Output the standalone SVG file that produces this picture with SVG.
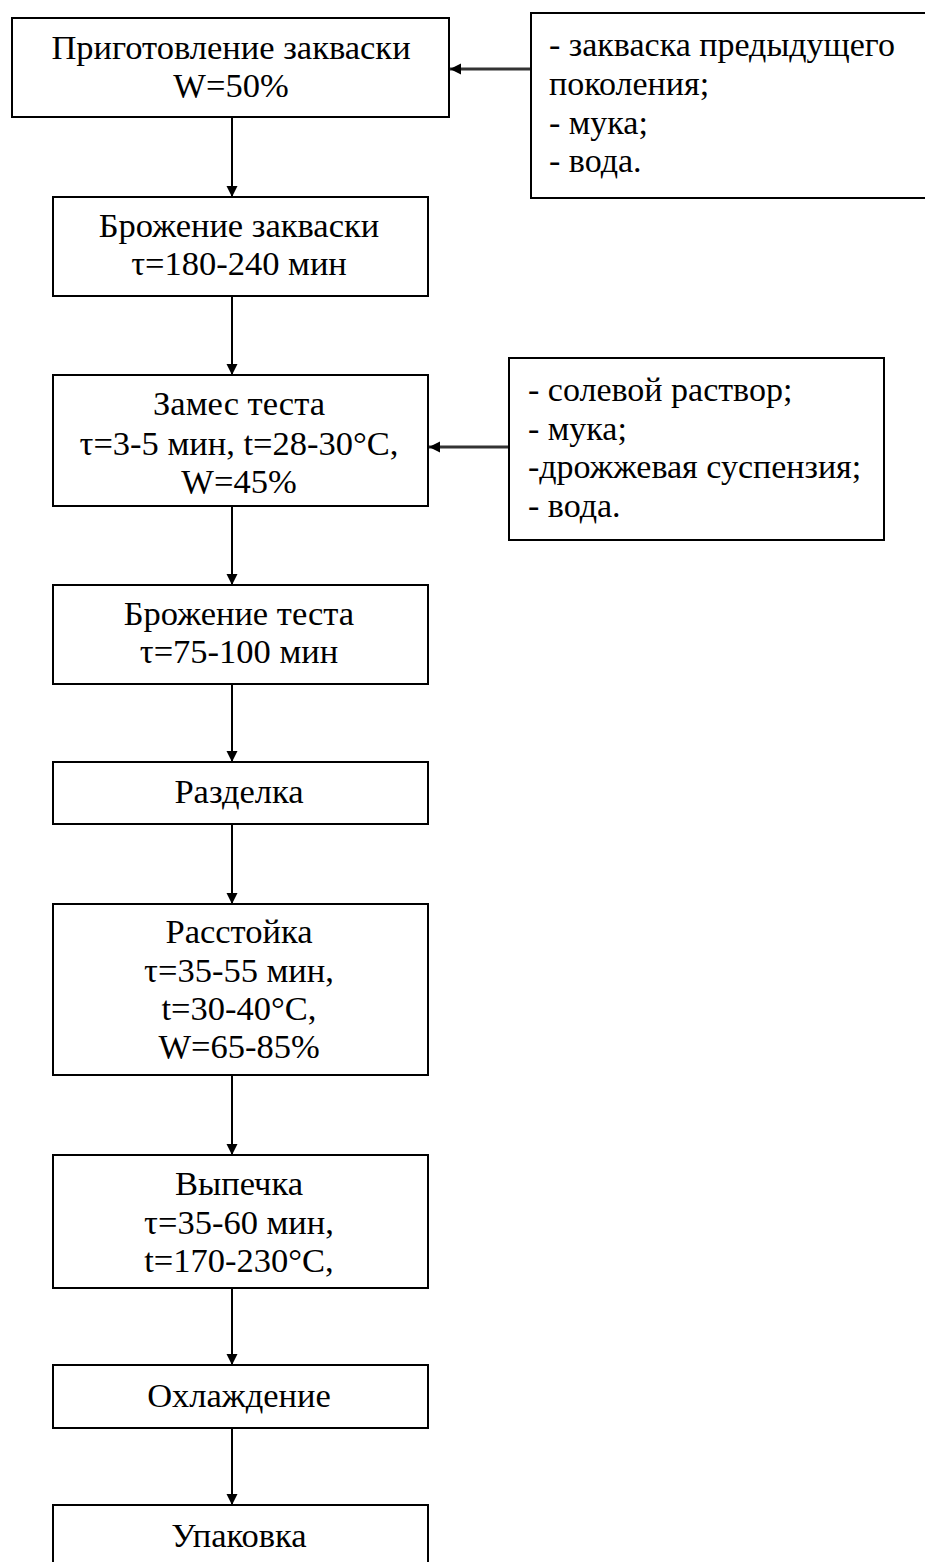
<svg xmlns="http://www.w3.org/2000/svg" width="925" height="1562" viewBox="0 0 925 1562">
<defs>
<style>
.box{fill:#fff;stroke:#000;stroke-width:2}
.t{font-family:"Liberation Serif","Times New Roman",serif;font-size:34.5px;fill:#000}
.s{font-size:34px}
.c{text-anchor:middle}
.conn{stroke:#000;stroke-width:2;fill:none;marker-end:url(#arr)}
.side{stroke:#333;stroke-width:3;fill:none;marker-end:url(#arr)}
</style>
<marker id="arr" markerUnits="userSpaceOnUse" markerWidth="12" markerHeight="12" refX="11" refY="5.5" orient="auto">
<path d="M0,0 L11,5.5 L0,11 z" fill="#000"/>
</marker>
</defs>
<rect width="925" height="1562" fill="#fff"/>

<g id="connectors">
<line class="conn" x1="232" y1="117" x2="232" y2="197"/>
<line class="conn" x1="232" y1="296" x2="232" y2="375"/>
<line class="conn" x1="232" y1="506" x2="232" y2="585"/>
<line class="conn" x1="232" y1="684" x2="232" y2="762"/>
<line class="conn" x1="232" y1="824" x2="232" y2="904"/>
<line class="conn" x1="232" y1="1075" x2="232" y2="1155"/>
<line class="conn" x1="232" y1="1288" x2="232" y2="1365"/>
<line class="conn" x1="232" y1="1428" x2="232" y2="1505"/>
<line class="side" x1="531" y1="69" x2="450" y2="69"/>
<line class="side" x1="509" y1="447" x2="429" y2="447"/>
</g>

<g id="n1">
<rect class="box" x="12" y="18" width="437" height="99"/>
<text class="t c" x="231" y="59">Приготовление закваски</text>
<text class="t c" x="231" y="97">W=50%</text>
</g>

<g id="in1">
<rect class="box" x="531" y="13" width="400" height="185"/>
<text class="t s" x="549" y="56">- закваска предыдущего</text>
<text class="t s" x="549" y="95">поколения;</text>
<text class="t s" x="549" y="134">- мука;</text>
<text class="t s" x="549" y="172">- вода.</text>
</g>

<g id="n2">
<rect class="box" x="53" y="197" width="375" height="99"/>
<text class="t c" x="239" y="237">Брожение закваски</text>
<text class="t c" x="239" y="275">τ=180-240 мин</text>
</g>

<g id="n3">
<rect class="box" x="53" y="375" width="375" height="131"/>
<text class="t c" x="239" y="415">Замес теста</text>
<text class="t c" x="239" y="455">τ=3-5 мин, t=28-30°C,</text>
<text class="t c" x="239" y="493">W=45%</text>
</g>

<g id="in2">
<rect class="box" x="509" y="358" width="375" height="182"/>
<text class="t s" x="528" y="401">- солевой раствор;</text>
<text class="t s" x="528" y="440">- мука;</text>
<text class="t s" x="528" y="478">-дрожжевая суспензия;</text>
<text class="t s" x="528" y="517">- вода.</text>
</g>

<g id="n4">
<rect class="box" x="53" y="585" width="375" height="99"/>
<text class="t c" x="239" y="625">Брожение теста</text>
<text class="t c" x="239" y="663">τ=75-100 мин</text>
</g>

<g id="n5">
<rect class="box" x="53" y="762" width="375" height="62"/>
<text class="t c" x="239" y="803">Разделка</text>
</g>

<g id="n6">
<rect class="box" x="53" y="904" width="375" height="171"/>
<text class="t c" x="239" y="943">Расстойка</text>
<text class="t c" x="239" y="982">τ=35-55 мин,</text>
<text class="t c" x="239" y="1020">t=30-40°C,</text>
<text class="t c" x="239" y="1058">W=65-85%</text>
</g>

<g id="n7">
<rect class="box" x="53" y="1155" width="375" height="133"/>
<text class="t c" x="239" y="1195">Выпечка</text>
<text class="t c" x="239" y="1234">τ=35-60 мин,</text>
<text class="t c" x="239" y="1272">t=170-230°C,</text>
</g>

<g id="n8">
<rect class="box" x="53" y="1365" width="375" height="63"/>
<text class="t c" x="239" y="1407">Охлаждение</text>
</g>

<g id="n9">
<rect class="box" x="53" y="1505" width="375" height="100"/>
<text class="t c" x="239" y="1547">Упаковка</text>
</g>
</svg>
